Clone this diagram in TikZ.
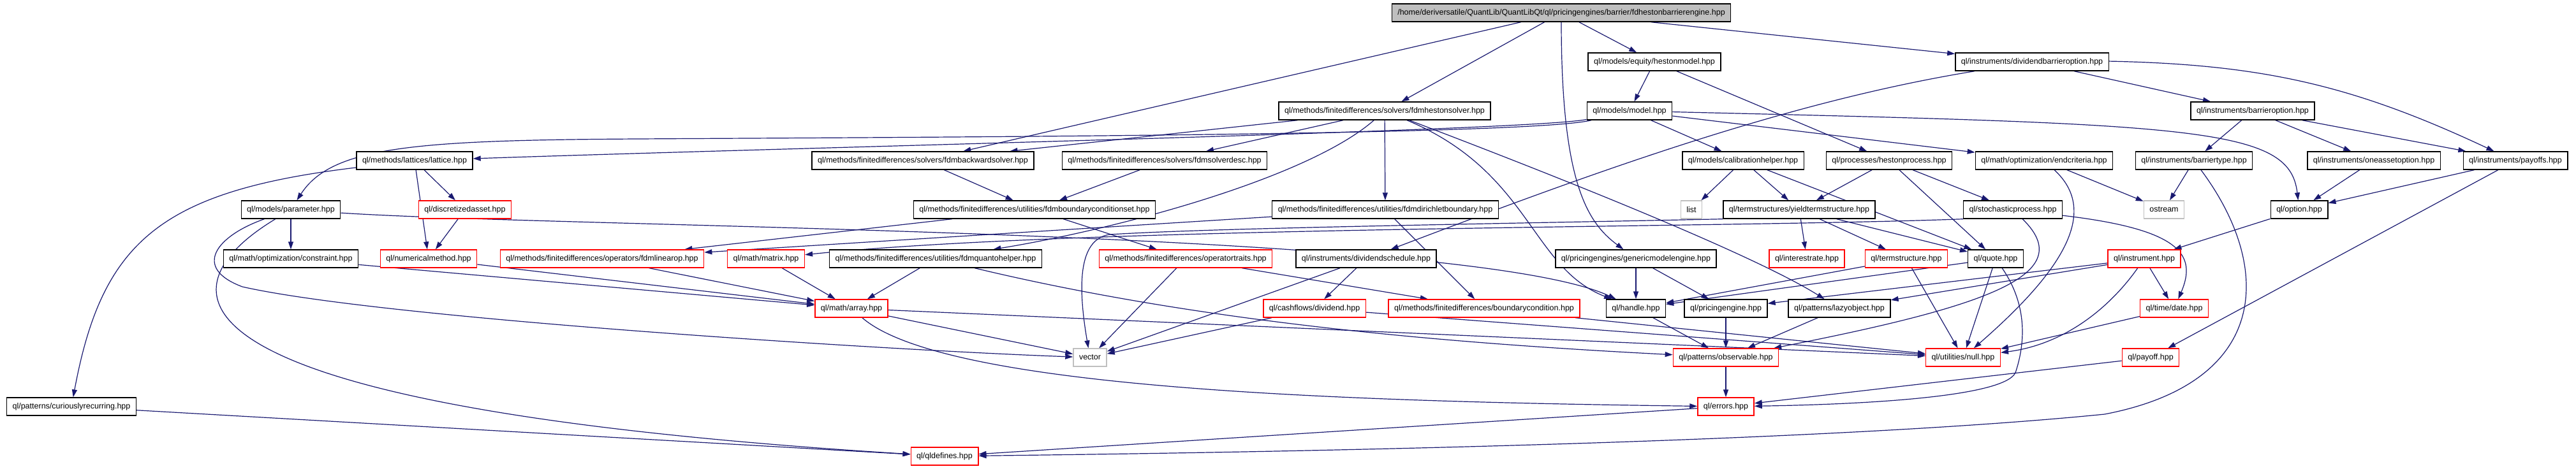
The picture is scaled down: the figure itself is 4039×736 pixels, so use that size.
\documentclass[tikz,border=0pt]{standalone}
\usepackage{fontspec}
\setmainfont{Liberation Sans}
\usetikzlibrary{arrows.meta,backgrounds}
\definecolor{IncBlue}{RGB}{25,25,112}
\definecolor{SysGrey}{RGB}{191,191,191}

\begin{document}
\begin{tikzpicture}[x=1pt,y=1pt,
  hdr/.style={draw=black,fill=white,line width=1.4pt,
              minimum height=28pt,inner xsep=9pt,inner ysep=2pt,
              font=\fontsize{12.5}{14}\selectfont},
  hdrred/.style={hdr,draw=red},
  sysinc/.style={hdr,draw=SysGrey},
  inc/.style={-{Triangle[length=12pt,width=8pt]},IncBlue,line width=1.2pt},
]
\useasboundingbox (0,0) rectangle (4039,-736);
% row 0 - 2
\node[hdr,fill=SysGrey] (top) at (2448,-20) {/home/deriversatile/QuantLib/QuantLibQt/ql/pricingengines/barrier/fdhestonbarrierengine.hpp};
\node[hdr] (hestonmodel) at (2594,-97) {ql/models/equity/hestonmodel.hpp};
\node[hdr] (divbarrier) at (3186,-97) {ql/instruments/dividendbarrieroption.hpp};
\node[hdr] (hestonsolver) at (2171,-174) {ql/methods/finitedifferences/solvers/fdmhestonsolver.hpp};
\node[hdr] (model) at (2555,-174) {ql/models/model.hpp};
\node[hdr] (barrieroption) at (3532,-174) {ql/instruments/barrieroption.hpp};
% row 3
\node[hdr] (lattice) at (650,-252) {ql/methods/lattices/lattice.hpp};
\node[hdr] (backwardsolver) at (1447,-252) {ql/methods/finitedifferences/solvers/fdmbackwardsolver.hpp};
\node[hdr] (solverdesc) at (1826,-252) {ql/methods/finitedifferences/solvers/fdmsolverdesc.hpp};
\node[hdr] (calibhelper) at (2733,-252) {ql/models/calibrationhelper.hpp};
\node[hdr] (hestonprocess) at (2962,-252) {ql/processes/hestonprocess.hpp};
\node[hdr] (endcriteria) at (3205,-252) {ql/math/optimization/endcriteria.hpp};
\node[hdr] (barriertype) at (3440,-252) {ql/instruments/barriertype.hpp};
\node[hdr] (oneasset) at (3722,-252) {ql/instruments/oneassetoption.hpp};
\node[hdr] (payoffs) at (3944,-252) {ql/instruments/payoffs.hpp};
% row 4
\node[hdr] (parameter) at (456,-329) {ql/models/parameter.hpp};
\node[hdrred] (discasset) at (729,-329) {ql/discretizedasset.hpp};
\node[hdr] (bcset) at (1622,-329) {ql/methods/finitedifferences/utilities/fdmboundaryconditionset.hpp};
\node[hdr] (dirichlet) at (2172,-329) {ql/methods/finitedifferences/utilities/fdmdirichletboundary.hpp};
\node[sysinc] (list) at (2652,-329) {list};
\node[hdr] (yieldts) at (2821,-329) {ql/termstructures/yieldtermstructure.hpp};
\node[hdr] (stochproc) at (3156,-329) {ql/stochasticprocess.hpp};
\node[sysinc] (ostream) at (3393,-329) {ostream};
\node[hdr] (option) at (3605,-329) {ql/option.hpp};
% row 5
\node[hdr] (constraint) at (456,-406) {ql/math/optimization/constraint.hpp};
\node[hdrred] (nummethod) at (672,-406) {ql/numericalmethod.hpp};
\node[hdrred] (linearop) at (944,-406) {ql/methods/finitedifferences/operators/fdmlinearop.hpp};
\node[hdrred] (matrix) at (1201,-406) {ql/math/matrix.hpp};
\node[hdr] (quanto) at (1467,-406) {ql/methods/finitedifferences/utilities/fdmquantohelper.hpp};
\node[hdrred] (optraits) at (1859,-406) {ql/methods/finitedifferences/operatortraits.hpp};
\node[hdr] (divschedule) at (2142,-406) {ql/instruments/dividendschedule.hpp};
\node[hdr] (genericengine) at (2565,-406) {ql/pricingengines/genericmodelengine.hpp};
\node[hdrred] (interestrate) at (2833,-406) {ql/interestrate.hpp};
\node[hdrred] (termstructure) at (2989,-406) {ql/termstructure.hpp};
\node[hdr] (quote) at (3129,-406) {ql/quote.hpp};
\node[hdrred] (instrument) at (3362,-406) {ql/instrument.hpp};
% row 6
\node[hdrred] (array) at (1335,-484) {ql/math/array.hpp};
\node[hdrred] (dividend) at (2061,-484) {ql/cashflows/dividend.hpp};
\node[hdrred] (bcond) at (2327,-484) {ql/methods/finitedifferences/boundarycondition.hpp};
\node[hdr] (handle) at (2565,-484) {ql/handle.hpp};
\node[hdr] (pengine) at (2706,-484) {ql/pricingengine.hpp};
\node[hdr] (lazy) at (2884,-484) {ql/patterns/lazyobject.hpp};
\node[hdrred] (date) at (3409,-484) {ql/time/date.hpp};
% row 7 - 9
\node[sysinc] (vector) at (1709,-561) {vector};
\node[hdrred] (observable) at (2706,-561) {ql/patterns/observable.hpp};
\node[hdrred] (null) at (3078,-561) {ql/utilities/null.hpp};
\node[hdrred] (payoff) at (3372,-561) {ql/payoff.hpp};
\node[hdr] (curious) at (112,-638) {ql/patterns/curiouslyrecurring.hpp};
\node[hdrred] (errors) at (2706,-638) {ql/errors.hpp};
\node[hdrred] (qldefines) at (1481,-716) {ql/qldefines.hpp};

\begin{scope}[on background layer]
% includes of the engine and the models
\draw[inc] (top) -- (backwardsolver);
\draw[inc] (top) -- (hestonsolver);
\draw[inc] (top) .. controls (2448,-290) and (2490,-350) .. (genericengine);
\draw[inc] (top) -- (hestonmodel);
\draw[inc] (top) -- (divbarrier);
\draw[inc] (hestonmodel) -- (model);
\draw[inc] (hestonmodel) -- (hestonprocess);
\draw[inc] (divbarrier) .. controls (2800,-160) and (2500,-270) .. (divschedule);
\draw[inc] (divbarrier) -- (barrieroption);
\draw[inc] (divbarrier) to[bend left=12] (payoffs);
\draw[inc] (hestonsolver) -- (backwardsolver);
\draw[inc] (hestonsolver) -- (solverdesc);
\draw[inc] (hestonsolver) -- (dirichlet);
\draw[inc] (hestonsolver) .. controls (2050,-280) and (1750,-360) .. (quanto);
\draw[inc] (hestonsolver) .. controls (2400,-270) and (2400,-420) .. (handle);
\draw[inc] (hestonsolver) .. controls (2450,-280) and (2750,-400) .. (lazy);
\draw[inc] (model) .. controls (2400,-205) and (1300,-230) .. (lattice);
\draw[inc] (model) .. controls (2400,-212) and (1500,-215) .. (1000,-218)
  .. controls (650,-220) and (520,-230) .. (parameter);
\draw[inc] (model) -- (calibhelper);
\draw[inc] (model) -- (endcriteria);
\draw[inc] (model) .. controls (3450,-195) and (3590,-200) .. (option);
\draw[inc] (barrieroption) -- (barriertype);
\draw[inc] (barrieroption) -- (oneasset);
\draw[inc] (barrieroption) -- (payoffs);
% row 3 and 4
\draw[inc] (lattice) -- (discasset);
\draw[inc] (lattice) -- (nummethod);
\draw[inc] (lattice) .. controls (250,-300) and (160,-380) .. (curious);
\draw[inc] (backwardsolver) -- (bcset);
\draw[inc] (solverdesc) -- (bcset);
\draw[inc] (calibhelper) -- (list);
\draw[inc] (calibhelper) -- (yieldts);
\draw[inc] (calibhelper) -- (quote);
\draw[inc] (hestonprocess) -- (yieldts);
\draw[inc] (hestonprocess) -- (quote);
\draw[inc] (hestonprocess) -- (stochproc);
\draw[inc] (endcriteria) -- (ostream);
\draw[inc] (endcriteria) .. controls (3290,-330) and (3240,-420) .. (null);
\draw[inc] (barriertype) -- (ostream);
\draw[inc] (barriertype) .. controls (3565,-420) and (3560,-600) .. (3300,-650)
  .. controls (2800,-700) and (1800,-712) .. (qldefines);
\draw[inc] (oneasset) -- (option);
\draw[inc] (payoffs) -- (option);
\draw[inc] (payoffs) -- (payoff);
\draw[inc] (parameter) -- (constraint);
\draw[inc] (parameter) .. controls (900,-358) and (2300,-360) .. (handle);
\draw[inc] (parameter) .. controls (340,-370) and (300,-420) .. (380,-450)
  .. controls (600,-500) and (1400,-550) .. (vector);
\draw[inc] (parameter) .. controls (240,-460) and (250,-640) .. (qldefines);
\draw[inc] (discasset) -- (nummethod);
\draw[inc] (bcset) -- (linearop);
\draw[inc] (bcset) -- (optraits);
\draw[inc] (dirichlet) -- (linearop);
\draw[inc] (dirichlet) -- (bcond);
\draw[inc] (yieldts) -- (interestrate);
\draw[inc] (yieldts) -- (termstructure);
\draw[inc] (yieldts) -- (quote);
\draw[inc] (yieldts.south west) .. controls (2300,-352) and (1900,-358) .. (1740,-368)
  .. controls (1690,-375) and (1690,-450) .. (vector);
\draw[inc] (stochproc.south west) .. controls (2700,-358) and (1700,-355) .. (matrix);
\draw[inc] (stochproc) .. controls (3260,-430) and (3120,-480) .. (observable);
\draw[inc] (stochproc) .. controls (3420,-360) and (3445,-400) .. (date);
\draw[inc] (option) -- (instrument);
% lower rows
\draw[inc] (constraint) -- (array);
\draw[inc] (nummethod) -- (array);
\draw[inc] (linearop) -- (array);
\draw[inc] (matrix) -- (array);
\draw[inc] (quanto) -- (array);
\draw[inc] (quanto) .. controls (1900,-510) and (2300,-540) .. (observable);
\draw[inc] (optraits) -- (vector);
\draw[inc] (optraits) -- (bcond);
\draw[inc] (divschedule) -- (dividend);
\draw[inc] (divschedule) -- (vector);
\draw[inc] (genericengine) -- (handle);
\draw[inc] (genericengine) -- (pengine);
\draw[inc] (termstructure) -- (handle);
\draw[inc] (termstructure) -- (null);
\draw[inc] (quote) -- (handle);
\draw[inc] (quote) -- (null);
\draw[inc] (quote) .. controls (3180,-480) and (3175,-540) .. (3160,-585)
  .. controls (3140,-625) and (2900,-635) .. (errors);
\draw[inc] (instrument) -- (pengine);
\draw[inc] (instrument) -- (lazy);
\draw[inc] (instrument) -- (date);
\draw[inc] (instrument) .. controls (3310,-480) and (3240,-540) .. (null);
\draw[inc] (array) -- (vector);
\draw[inc] (array) -- (null);
\draw[inc] (array) .. controls (1480,-610) and (2100,-630) .. (errors);
\draw[inc] (dividend) -- (vector);
\draw[inc] (dividend) -- (null);
\draw[inc] (bcond) -- (null);
\draw[inc] (handle) -- (observable);
\draw[inc] (pengine) -- (observable);
\draw[inc] (lazy) -- (observable);
\draw[inc] (date) -- (null);
\draw[inc] (observable) -- (errors);
\draw[inc] (payoff) -- (errors);
\draw[inc] (curious) -- (qldefines);
\draw[inc] (errors) -- (qldefines);
\end{scope}
\end{tikzpicture}
\end{document}
